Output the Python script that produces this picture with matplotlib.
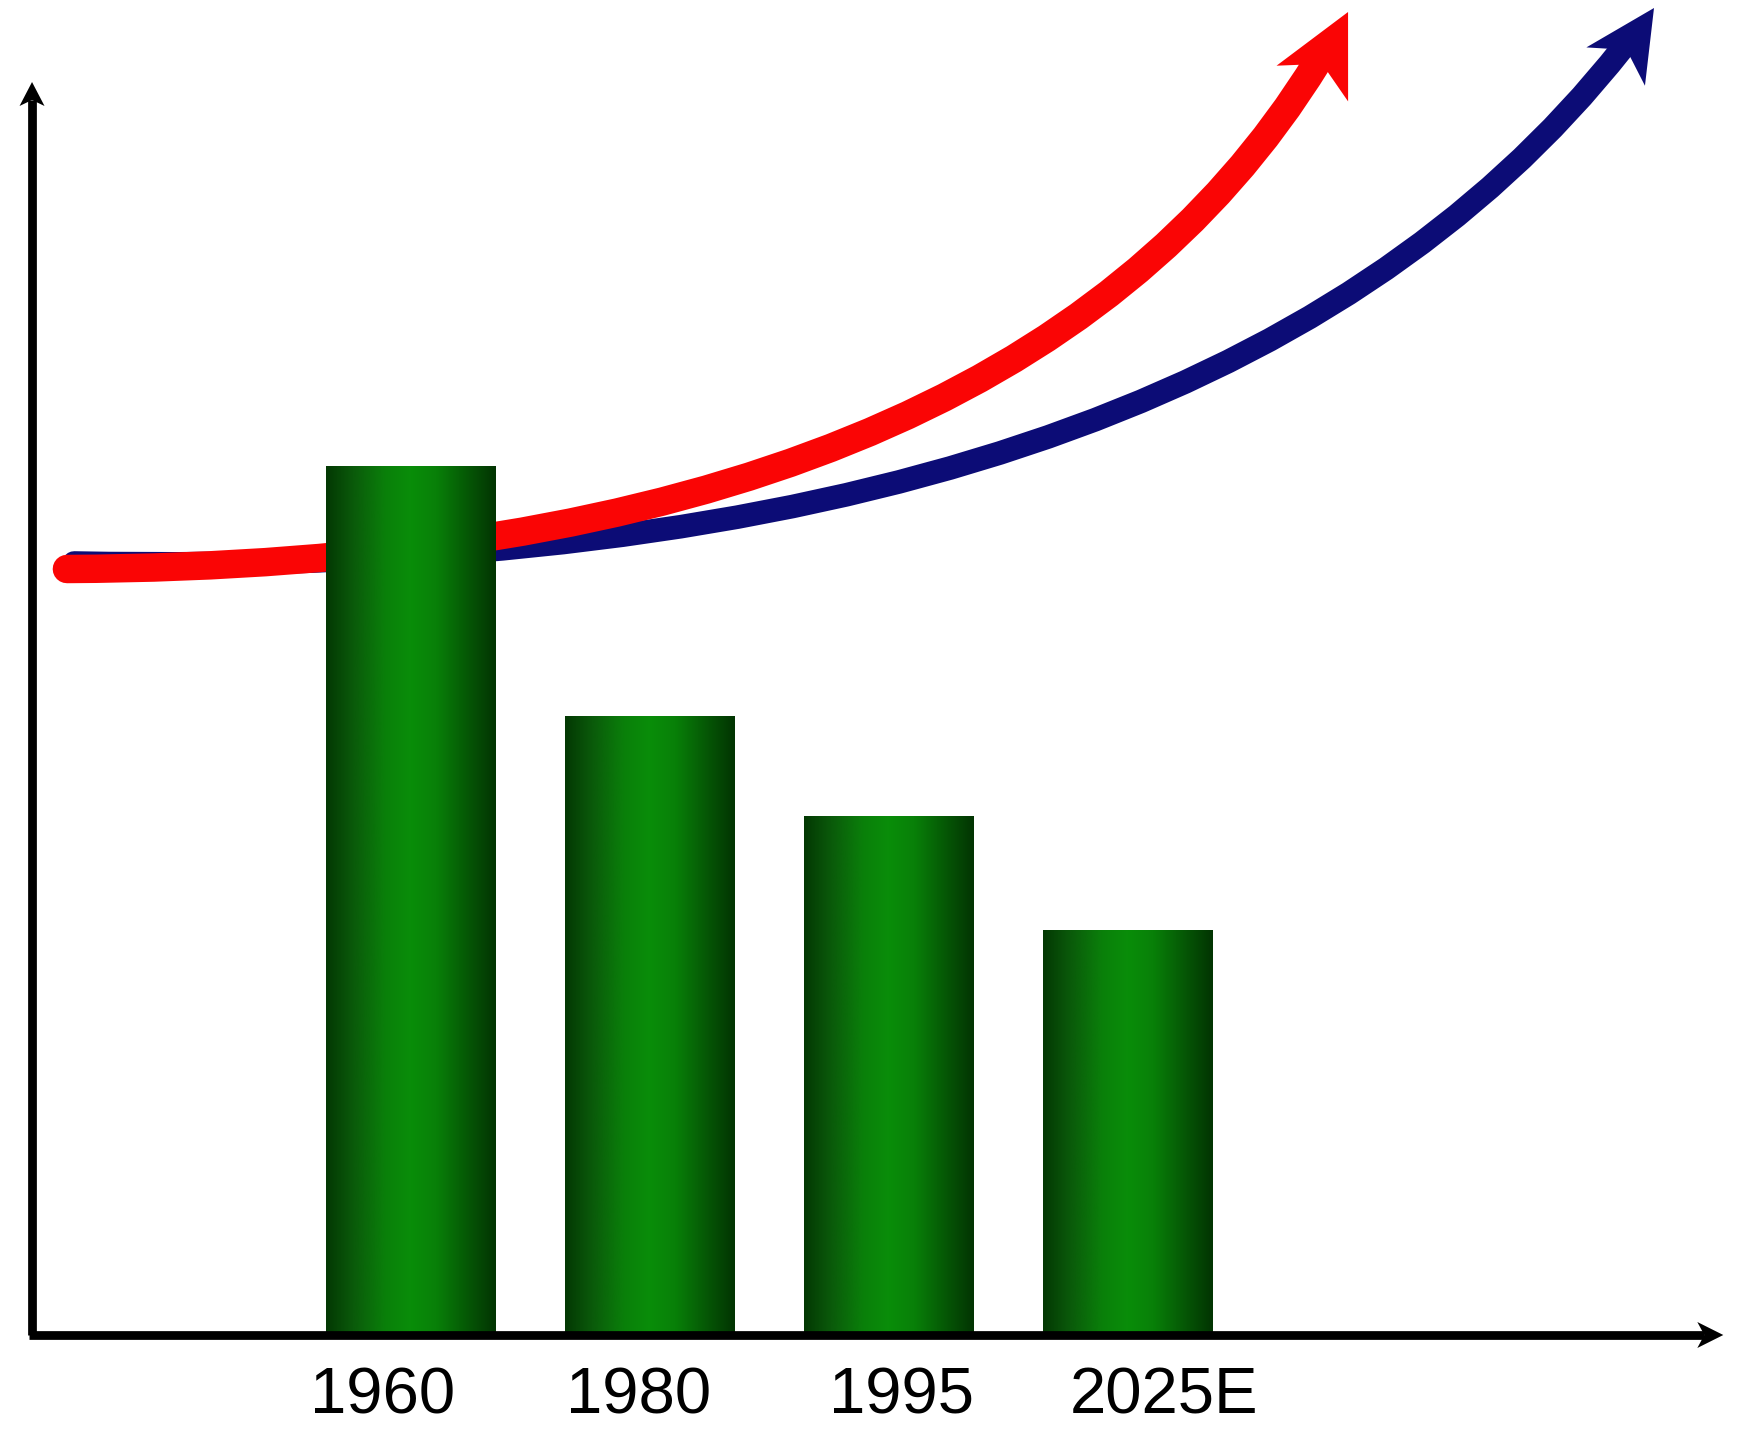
import matplotlib
matplotlib.use("Agg")
import matplotlib.pyplot as plt
import matplotlib.transforms as mtransforms
import numpy as np
from matplotlib.colors import LinearSegmentedColormap
from matplotlib.patches import PathPatch, Polygon
from matplotlib.path import Path

# data
years = ["1960", "1980", "1995", "2025E"]
bar_values = [8.69, 6.19, 5.19, 4.05]
label_x = [-0.12, 0.95, 2.05, 3.15]

# trend arrows: start, bend (quadratic control point), tip
red_curve = [(-1.44, 7.66), (2.50, 7.70), (3.92, 13.23)]
blue_curve = [(-1.41, 7.72), (3.30, 7.50), (5.20, 13.27)]

XLIM = (-1.72, 5.61)
YLIM = (-0.96, 13.35)
AXIS_X = -1.586
AXIS_TOP = 12.53
AXIS_RIGHT = 5.49

RED = "#fa0505"
NAVY = "#0c0c76"

fig = plt.figure(figsize=(17.52, 14.31), dpi=100)
ax = fig.add_axes([0, 0, 1, 1])
ax.set_xlim(*XLIM)
ax.set_ylim(*YLIM)
ax.axis("off")

# gradient bars
green = LinearSegmentedColormap.from_list(
    "bar", [(0.0, "#033803"), (0.15, "#0a580a"), (0.35, "#0a800a"),
            (0.5, "#098d09"), (0.65, "#088008"), (0.85, "#055405"),
            (1.0, "#023402")])
grad = np.linspace(0, 1, 256)[None, :]
x = np.arange(len(years))
bars = ax.bar(x, bar_values, width=0.71, facecolor="none",
              edgecolor="none", zorder=3)
for rect in bars:
    l, w, h = rect.get_x(), rect.get_width(), rect.get_height()
    im = ax.imshow(grad, extent=[l, l + w, 0, h], aspect="auto", cmap=green,
                   interpolation="bicubic", zorder=3)
    im.set_clip_path(rect)
ax.set_xlim(*XLIM)
ax.set_ylim(*YLIM)


def head(tip, back, length, half_w, notch, color, z, tilt=0.0):
    """Notched arrow head built in pixels; returns where the shaft stops."""
    tx, ty = ax.transData.transform(tip)
    bx, by = ax.transData.transform(back)
    ang = np.arctan2(ty - by, tx - bx)
    shape = [(0, 0), (-length, half_w), (-notch, 0), (-length, -half_w)]
    tr = mtransforms.Affine2D().rotate(ang + np.radians(tilt)).translate(tx, ty)
    ax.add_patch(Polygon(shape, closed=True, transform=tr, facecolor=color,
                         edgecolor="none", zorder=z))
    q = (tx - notch * np.cos(ang), ty - notch * np.sin(ang))
    return ax.transData.inverted().transform(q)


def trend(pts, color, lw, length, half_w, notch, z):
    start, bend, tip = pts
    q = head(tip, bend, length, half_w, notch, color, z, tilt=5)
    path = Path([start, bend, tuple(q)], [Path.MOVETO, Path.CURVE3, Path.CURVE3])
    ax.add_patch(PathPatch(path, fill=False, edgecolor=color, lw=lw,
                           capstyle="round", joinstyle="round", zorder=z,
                           clip_on=False))


trend(blue_curve, NAVY, 17, 70, 35, 50, 2)
trend(red_curve, RED, 20.5, 80, 40, 58, 2.1)

# axes with arrows
q = head((AXIS_X, AXIS_TOP), (AXIS_X, 0), 24, 12.5, 18, "black", 4)
ax.plot([AXIS_X, AXIS_X], [0, q[1]], color="black", lw=6.3,
        solid_capstyle="butt", zorder=4)
q = head((AXIS_RIGHT, 0), (AXIS_X, 0), 26, 13, 19, "black", 4)
ax.plot([AXIS_X - 0.012, q[0]], [0, 0], color="black", lw=6.3,
        solid_capstyle="butt", zorder=4)

for lx, year in zip(label_x, years):
    ax.text(lx, -0.79, year, ha="center", va="baseline", fontsize=47,
            family=["Liberation Sans", "DejaVu Sans"])

fig.savefig("out.png", dpi=100)
plt.close(fig)
